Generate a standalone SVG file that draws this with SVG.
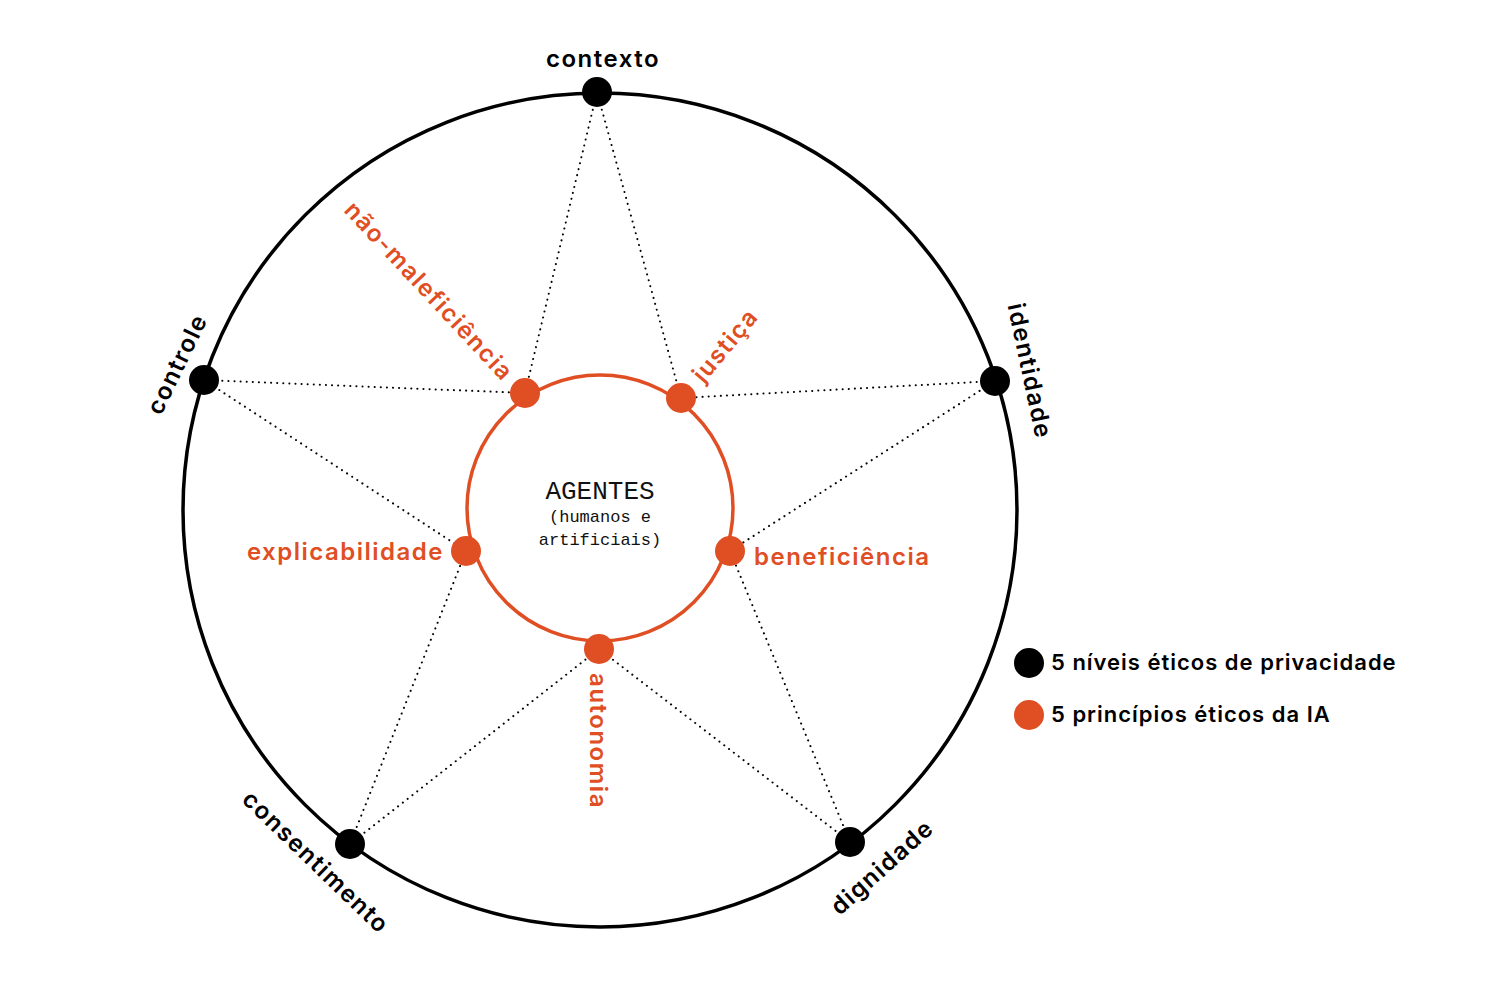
<svg xmlns="http://www.w3.org/2000/svg" width="1488" height="984" viewBox="0 0 1488 984">
<style>
.lbl{font-family:Inter,"DejaVu Sans",sans-serif;font-weight:600;font-size:24px;letter-spacing:1.5px;}
.blk{fill:#000;}
.org{fill:#E04E23;}
.mono{font-family:"Liberation Mono","DejaVu Sans Mono",monospace;fill:#111;}
.dot{stroke:#000;stroke-width:2;stroke-dasharray:0.1 6;stroke-linecap:round;fill:none;}
.leg{font-family:Inter,"DejaVu Sans",sans-serif;font-weight:600;font-size:22px;letter-spacing:1px;fill:#000;}
</style>
<rect width="1488" height="984" fill="#fff"/>
<g id="outer"><circle cx="600" cy="510" r="417" fill="none" stroke="#000" stroke-width="3.5"/></g>
<g id="connectors">
<line class="dot" x1="597" y1="92" x2="525" y2="393"/>
<line class="dot" x1="597" y1="92" x2="681" y2="398"/>
<line class="dot" x1="995" y1="381" x2="681" y2="398"/>
<line class="dot" x1="995" y1="381" x2="730" y2="551"/>
<line class="dot" x1="850" y1="842" x2="730" y2="551"/>
<line class="dot" x1="850" y1="842" x2="599" y2="649"/>
<line class="dot" x1="350" y1="844" x2="599" y2="649"/>
<line class="dot" x1="350" y1="844" x2="466" y2="551"/>
<line class="dot" x1="204" y1="380" x2="466" y2="551"/>
<line class="dot" x1="204" y1="380" x2="525" y2="393"/>
</g>
<g id="agentes">
<circle cx="600" cy="508" r="133" fill="none" stroke="#E04E23" stroke-width="3.5"/>
<text class="mono" x="600" y="499" text-anchor="middle" font-size="26">AGENTES</text>
<text class="mono" x="600" y="522" text-anchor="middle" font-size="17">(humanos e</text>
<text class="mono" x="600" y="545" text-anchor="middle" font-size="17">artificiais)</text>
</g>
<g id="contexto"><circle cx="597" cy="92" r="15" class="blk"/><text class="lbl blk" x="603" y="67" text-anchor="middle">contexto</text></g>
<g id="identidade"><circle cx="995" cy="381" r="15" class="blk"/><text class="lbl blk" transform="translate(1030,371) rotate(78)" text-anchor="middle" dy="0.35em">identidade</text></g>
<g id="dignidade"><circle cx="850" cy="842" r="15" class="blk"/><text class="lbl blk" transform="translate(882,867) rotate(-42)" text-anchor="middle" dy="0.35em">dignidade</text></g>
<g id="consentimento"><circle cx="350" cy="844" r="15" class="blk"/><text class="lbl blk" transform="translate(316,862) rotate(44)" text-anchor="middle" dy="0.35em">consentimento</text></g>
<g id="controle"><circle cx="204" cy="380" r="15" class="blk"/><text class="lbl blk" transform="translate(177,364) rotate(-64)" text-anchor="middle" dy="0.35em">controle</text></g>
<g id="nao-maleficiencia"><circle cx="525" cy="393" r="15" class="org"/><text class="lbl org" transform="translate(429,291) rotate(47)" text-anchor="middle" dy="0.35em">não-maleficiência</text></g>
<g id="justica"><circle cx="681" cy="398" r="15" class="org"/><text class="lbl org" transform="translate(726,346) rotate(-50)" text-anchor="middle" dy="0.3em">justiça</text></g>
<g id="beneficiencia"><circle cx="730" cy="551" r="15" class="org"/><text class="lbl org" x="754" y="565">beneficiência</text></g>
<g id="explicabilidade"><circle cx="466" cy="551" r="15" class="org"/><text class="lbl org" x="444" y="560" text-anchor="end">explicabilidade</text></g>
<g id="autonomia"><circle cx="599" cy="649" r="15" class="org"/><text class="lbl org" transform="translate(598,741) rotate(90)" text-anchor="middle" dy="0.35em">autonomia</text></g>
<g id="legend">
<circle cx="1029" cy="663" r="15" class="blk"/><text class="leg" x="1051" y="670">5 níveis éticos de privacidade</text>
<circle cx="1029" cy="715" r="15" class="org"/><text class="leg" x="1051" y="722">5 princípios éticos da IA</text>
</g>
</svg>
